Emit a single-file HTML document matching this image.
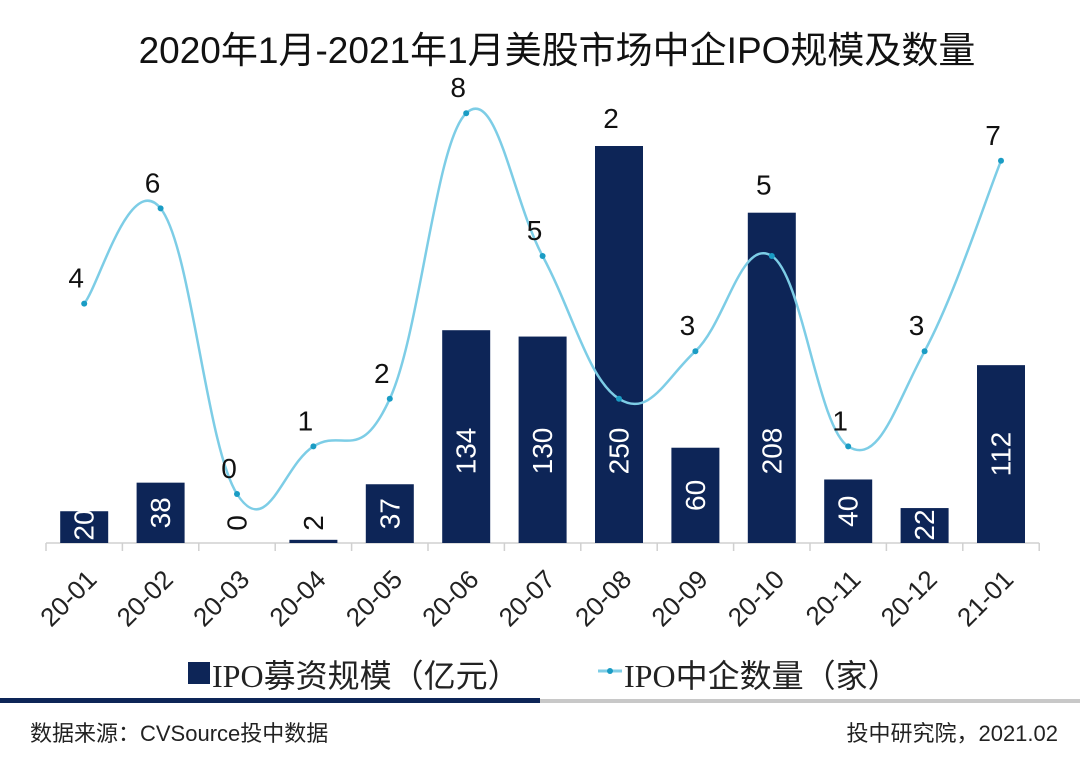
<!DOCTYPE html>
<html><head><meta charset="utf-8"><style>
body{margin:0;background:#fff;}
svg text{font-family:"Liberation Sans","Noto Sans CJK SC",sans-serif;}
</style></head><body>
<svg id="chart" width="1080" height="758" viewBox="0 0 1080 758" xmlns="http://www.w3.org/2000/svg">
<text x="557" y="63" text-anchor="middle" font-size="37" fill="#111">2020年1月-2021年1月美股市场中企IPO规模及数量</text>
<g id="plot"></g>
<g>
<rect x="188" y="662" width="22" height="22" fill="#0d2557"/>
<text x="212" y="687" font-size="32" fill="#222"><tspan font-family="Liberation Serif,serif">IPO</tspan>募资规模（亿元）</text>
<line x1="598" y1="671" x2="622" y2="671" stroke="#7dcde6" stroke-width="3"/>
<circle cx="610" cy="671" r="3" fill="#1a9cc4"/>
<text x="624" y="687" font-size="32" fill="#222"><tspan font-family="Liberation Serif,serif">IPO</tspan>中企数量（家）</text>
</g>
<rect x="0" y="698" width="540" height="5" fill="#0d2557"/>
<rect x="540" y="699" width="540" height="4" fill="#c8c8c8"/>
<text x="30" y="741" font-size="22" fill="#222">数据来源：CVSource投中数据</text>
<text x="1058" y="741" font-size="22" fill="#222" text-anchor="end">投中研究院，2021.02</text>
</svg>
<script>
const categories=["20-01","20-02","20-03","20-04","20-05","20-06","20-07","20-08","20-09","20-10","20-11","20-12","21-01"];
const amounts=[20,38,0,2,37,134,130,250,60,208,40,22,112];
const counts=[4,6,0,1,2,8,5,2,3,5,1,3,7];
const NS="http://www.w3.org/2000/svg";
const g=document.getElementById('plot');
const x0=46,step=76.4,base=543;
const xc=i=>x0+step*(i+0.5);
const yA=v=>base-v*1.588;
const yC=v=>494-v*47.6;
function mk(t,a){const e=document.createElementNS(NS,t);for(const k in a)e.setAttribute(k,a[k]);g.appendChild(e);return e;}
let ax=mk('line',{x1:x0,y1:base,x2:x0+step*categories.length,y2:base,stroke:'#d0d0d0','stroke-width':1.5});


for(let i=0;i<=categories.length;i++){
 let t=mk('line',{x1:x0+step*i,y1:base,x2:x0+step*i,y2:base+8,stroke:'#d0d0d0','stroke-width':1.5});
 
 
}
categories.forEach((c,i)=>{
 const x=xc(i),h=base-yA(amounts[i]);
 const r=mk('rect',{x:x-24,y:yA(amounts[i]),width:48,height:h,fill:'#0d2557'});
 
 
 let cy,fill;
 if(h<30){cy=base-20;fill='#111';}else{cy=base-Math.min(Math.max(h/2,18),92);fill='#fff';}
 const t=mk('text',{x:x,y:cy,'text-anchor':'middle','dominant-baseline':'central','font-size':28,fill:fill,transform:`rotate(-90 ${x} ${cy})`});
 t.textContent=amounts[i];
 
 
 const lx=x+14,ly=base+38;
 const l=mk('text',{x:lx,y:ly,'text-anchor':'end','font-size':26,fill:'#222',transform:`rotate(-45 ${lx} ${ly})`});
 l.textContent=c;
 
 
});
const pts=counts.map((v,i)=>[xc(i),yC(v)]);
let d=`M${pts[0][0]},${pts[0][1]}`;
const k=1/5;
for(let i=0;i<pts.length-1;i++){
 const p0=pts[Math.max(i-1,0)],p1=pts[i],p2=pts[i+1],p3=pts[Math.min(i+2,pts.length-1)];
 d+=` C${p1[0]+(p2[0]-p0[0])*k},${p1[1]+(p2[1]-p0[1])*k} ${p2[0]-(p3[0]-p1[0])*k},${p2[1]-(p3[1]-p1[1])*k} ${p2[0]},${p2[1]}`;
}
const ln=mk('path',{d:d,fill:'none',stroke:'#7dcde6','stroke-width':2.5});


pts.forEach((p,i)=>{
 const c=mk('circle',{cx:p[0],cy:p[1],r:3,fill:'#1a9cc4'});
 
 
 const ly=Math.min(p[1]-16, yA(amounts[i])-18);
 const t=mk('text',{x:p[0]-8,y:ly,'text-anchor':'middle','font-size':28,fill:'#111'});
 t.textContent=counts[i];
 
 
});
</script>
</body></html>
